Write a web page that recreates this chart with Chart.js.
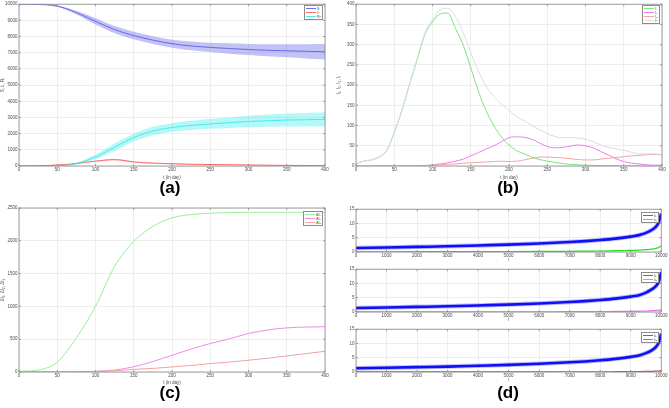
<!DOCTYPE html>
<html>
<head>
<meta charset="UTF-8">
<script src="https://cdn.jsdelivr.net/npm/chart.js"></script>
<style>
  body { margin: 0; background: #fff; width: 669px; height: 408px; position: relative; overflow: hidden; font-family: "Liberation Sans", Arial, sans-serif; }
  canvas { position: absolute; }
  .cap { position: absolute; font-weight: bold; font-size: 17px; transform: translate(-50%, -50%); color: #000; }
  .leg { position: absolute; border: 0.8px solid #8c8c8c; background: #fff; padding: 0.5px 1px; font-size: 3.6px; line-height: 4px; color: #333; }
  .leg div { display: flex; align-items: center; white-space: nowrap; }
  .leg span.sw { display: inline-block; width: 10px; height: 1px; margin-right: 1px; }
</style>
</head>
<body>
<canvas id="pa" width="335" height="180" style="left:0;top:0"></canvas>
<canvas id="pb" width="333" height="180" style="left:336px;top:0"></canvas>
<canvas id="pc" width="335" height="185" style="left:0;top:200px"></canvas>
<canvas id="pd1" width="333" height="57" style="left:336px;top:205px"></canvas>
<canvas id="pd2" width="333" height="57" style="left:336px;top:265px"></canvas>
<canvas id="pd3" width="333" height="57" style="left:336px;top:325px"></canvas>

<div class="cap" style="left:170px;top:188px">(a)</div>
<div class="cap" style="left:508px;top:188px">(b)</div>
<div class="cap" style="left:170px;top:393px">(c)</div>
<div class="cap" style="left:508px;top:393px">(d)</div>

<div class="leg" style="left:304px;top:5px">
  <div><span class="sw" style="background:#6a6ae8"></span>S</div>
  <div><span class="sw" style="background:#ff6a6a"></span>I<sub style="font-size:2.5px">T</sub></div>
  <div><span class="sw" style="background:#4ee8e8"></span>R<sub style="font-size:2.5px">T</sub></div>
</div>
<div class="leg" style="left:642px;top:5px">
  <div><span class="sw" style="background:#80e880"></span>I₁</div>
  <div><span class="sw" style="background:#f07af0"></span>I₂</div>
  <div><span class="sw" style="background:#f2a8a8"></span>I₃</div>
  <div><span class="sw" style="background:#dedede"></span>I<sub style="font-size:2.5px">T</sub></div>
</div>
<div class="leg" style="left:303px;top:211px">
  <div><span class="sw" style="background:#9af09a"></span>ΔI₁</div>
  <div><span class="sw" style="background:#f08cf0"></span>ΔI₂</div>
  <div><span class="sw" style="background:#f2a8a8"></span>ΔI₃</div>
</div>
<div class="leg" style="left:641px;top:212px">
  <div><span class="sw" style="background:#5a5aff"></span>λᵢ</div>
  <div><span class="sw" style="background:#55dd55"></span>λ₁</div>
</div>
<div class="leg" style="left:641px;top:272px">
  <div><span class="sw" style="background:#5a5aff"></span>λᵢ</div>
  <div><span class="sw" style="background:#f07af0"></span>λ₂</div>
</div>
<div class="leg" style="left:641px;top:332px">
  <div><span class="sw" style="background:#5a5aff"></span>λᵢ</div>
  <div><span class="sw" style="background:#e06060"></span>λ₃</div>
</div>

<script>
// ---- data ----
// (a) days, mean curves and shaded bands
const tA = [0, 25, 50, 75, 100, 125, 150, 175, 200, 225, 250, 275, 300, 325, 350, 375, 400];
const sMean = [10000, 9985, 9880, 9480, 8940, 8430, 8060, 7780, 7560, 7420, 7330, 7260, 7200, 7150, 7120, 7090, 7060];
const sHigh = [10000, 9990, 9920, 9590, 9130, 8650, 8290, 8020, 7810, 7690, 7620, 7580, 7540, 7520, 7520, 7530, 7540];
const sLow  = [10000, 9980, 9840, 9370, 8750, 8210, 7830, 7540, 7310, 7150, 7040, 6940, 6860, 6780, 6720, 6650, 6580];
const rMean = [0, 5, 20, 150, 560, 1170, 1760, 2160, 2380, 2510, 2600, 2680, 2750, 2800, 2840, 2860, 2880];
const rHigh = [0, 5, 30, 210, 710, 1390, 2000, 2420, 2640, 2790, 2900, 3010, 3100, 3180, 3240, 3280, 3320];
const rLow  = [0, 5, 10, 90, 410, 950, 1520, 1900, 2120, 2230, 2300, 2350, 2400, 2420, 2440, 2440, 2440];
const iMean = [0, 10, 60, 150, 300, 395, 250, 175, 140, 110, 90, 75, 65, 50, 40, 30, 25];
const iHigh = [0, 12, 70, 175, 340, 445, 290, 205, 165, 130, 108, 92, 80, 63, 52, 40, 35];
const iLow  = [0, 8, 50, 125, 260, 345, 210, 145, 115, 90, 72, 58, 50, 37, 28, 20, 15];

// (b) infected per group, every 10 days
const tB = [0, 10, 20, 30, 40, 50, 60, 70, 80, 90, 100, 110, 120, 130, 140, 150, 160, 170, 180, 190, 200,
            210, 220, 230, 240, 250, 260, 270, 280, 290, 300, 310, 320, 330, 340, 350, 360, 370, 380, 390, 400];
const i1 = [5, 12, 15, 22, 38, 83, 137, 202, 263, 325, 356, 376, 378, 340, 300, 243, 185, 137, 100, 72, 52,
            38, 30, 22, 16, 12, 9, 6, 4, 3, 2, 1.5, 1, 1, 0.5, 0.5, 0.5, 0, 0, 0, 0];
const i2 = [0, 0, 0, 0, 0, 0, 0, 0, 0.5, 1, 3, 5, 8, 12, 17, 25, 33, 42, 50, 60, 70,
            72, 71, 66, 57, 48, 45, 46, 49, 52, 50, 45, 36, 27, 18, 11, 7, 5, 3, 2, 2];
const i3 = [0, 0, 0, 0, 0, 0, 0, 0, 0.5, 1, 2, 3, 4, 5, 7, 8, 9, 10, 11, 12, 11,
            12, 15, 19, 22, 22, 21, 20, 18, 16, 15, 15, 17, 19, 21, 23, 25, 26, 28, 29, 27];
const iT = [5, 12, 15, 22, 38, 83, 138, 203, 265, 328, 362, 386, 390, 370, 330, 280, 235, 198, 172, 153, 138,
            122, 112, 100, 90, 80, 73, 70, 70, 69, 66, 60, 52, 46, 42, 39, 34, 30, 30, 30, 28];

// (c) cumulative per group
const tC = [0, 25, 50, 75, 100, 125, 150, 175, 200, 225, 250, 275, 300, 325, 350, 375, 400];
const c1 = [10, 30, 150, 520, 1000, 1610, 1990, 2220, 2350, 2400, 2420, 2430, 2435, 2435, 2435, 2435, 2435];
const c2 = [0, 0, 0, 2, 10, 30, 80, 160, 255, 350, 434, 505, 587, 640, 673, 685, 690];
const c3 = [0, 0, 0, 2, 8, 20, 40, 55, 77, 100, 128, 152, 179, 210, 245, 280, 316];

// (d) sorted index plots
const xD = [0, 1000, 2000, 3000, 4000, 5000, 6000, 7000, 7500, 8000, 8500, 9000, 9300, 9500, 9700, 9800, 9900, 9950, 10000];
const d1Blue = [1.4, 1.6, 1.8, 2.0, 2.3, 2.6, 3.0, 3.5, 3.8, 4.2, 4.7, 5.4, 6.0, 6.7, 7.8, 8.6, 10.0, 11.5, 13.5];
const d1Green = [0.05, 0.05, 0.1, 0.1, 0.1, 0.15, 0.2, 0.25, 0.3, 0.35, 0.45, 0.55, 0.65, 0.8, 1.0, 1.2, 1.5, 1.8, 2.2];
const d2Blue = [1.4, 1.6, 1.8, 2.0, 2.3, 2.6, 3.0, 3.5, 3.8, 4.2, 4.7, 5.4, 6.0, 6.8, 8.0, 8.8, 10.2, 11.8, 14.0];
const d2Mag = [0.02, 0.02, 0.03, 0.04, 0.05, 0.06, 0.08, 0.1, 0.12, 0.15, 0.2, 0.25, 0.3, 0.35, 0.45, 0.5, 0.6, 0.65, 0.8];
const d3Blue = [1.3, 1.5, 1.7, 1.9, 2.2, 2.5, 2.9, 3.4, 3.7, 4.1, 4.6, 5.3, 5.9, 6.6, 7.7, 8.5, 9.9, 11.3, 13.5];
const d3Red = [0.01, 0.01, 0.02, 0.02, 0.03, 0.04, 0.05, 0.06, 0.07, 0.08, 0.1, 0.13, 0.16, 0.2, 0.25, 0.3, 0.35, 0.4, 0.5];

// ---- helpers ----
const tickFont = { family: "Liberation Sans", size: 4.5 };

function pts(xs, ys) {
  return xs.map((x, i) => ({ x: x, y: ys[i] }));
}

function line(xs, ys, color, width, fill, bg) {
  return {
    data: pts(xs, ys),
    borderColor: color,
    borderWidth: width,
    pointRadius: 0,
    cubicInterpolationMode: 'monotone',
    fill: fill || false,
    backgroundColor: bg || 'transparent'
  };
}

// MATLAB style box with inward ticks
const frame = {
  id: 'frame',
  afterDraw(chart) {
    const a = chart.chartArea, c = chart.ctx;
    c.save();
    c.strokeStyle = '#8a8a8a';
    c.lineWidth = 0.8;
    c.strokeRect(a.left, a.top, a.right - a.left, a.bottom - a.top);
    c.beginPath();
    const sx = chart.scales.x, sy = chart.scales.y;
    sx.ticks.forEach(t => {
      const p = sx.getPixelForValue(t.value);
      c.moveTo(p, a.bottom); c.lineTo(p, a.bottom - 2);
      c.moveTo(p, a.top); c.lineTo(p, a.top + 2);
    });
    sy.ticks.forEach(t => {
      const p = sy.getPixelForValue(t.value);
      c.moveTo(a.left, p); c.lineTo(a.left + 2, p);
      c.moveTo(a.right, p); c.lineTo(a.right - 2, p);
    });
    c.stroke();
    c.restore();
  }
};

function makeChart(id, datasets, o) {
  new Chart(document.getElementById(id), {
    type: 'line',
    data: { datasets: datasets },
    options: {
      responsive: false,
      animation: false,
      events: [],
      layout: { padding: { top: o.top, right: o.right, left: 0, bottom: 0 } },
      plugins: { legend: { display: false }, tooltip: { enabled: false } },
      scales: {
        x: {
          type: 'linear', min: o.xmin, max: o.xmax,
          ticks: { stepSize: o.xstep, font: tickFont, color: '#4a4a4a', padding: 1.5, maxRotation: 0, autoSkip: false,
                   callback: v => String(v) },
          grid: { color: '#e6e6e6', lineWidth: 0.7, drawTicks: false },
          border: { display: false },
          title: { display: !!o.xtitle, text: o.xtitle, font: tickFont, color: '#4a4a4a', padding: { top: 0.5, bottom: 0 } },
          afterFit(s) { s.height = o.xh; }
        },
        y: {
          min: o.ymin, max: o.ymax,
          ticks: { stepSize: o.ystep, font: tickFont, color: '#4a4a4a', padding: 1.5, autoSkip: false,
                   callback: v => String(v) },
          grid: { color: '#e6e6e6', lineWidth: 0.7, drawTicks: false },
          border: { display: false },
          title: { display: !!o.ytitle, text: o.ytitle, font: tickFont, color: '#4a4a4a', padding: { top: 0, bottom: 1 } },
          afterFit(s) { s.width = o.yw; }
        }
      }
    },
    plugins: [frame]
  });
}

// (a)
makeChart('pa', [
  line(tA, sLow, 'transparent', 0),
  line(tA, sHigh, 'transparent', 0, '-1', 'rgba(120,120,235,0.45)'),
  line(tA, rLow, 'transparent', 0),
  line(tA, rHigh, 'transparent', 0, '-1', 'rgba(90,240,240,0.45)'),
  line(tA, iLow, 'transparent', 0),
  line(tA, iHigh, 'transparent', 0, '-1', 'rgba(255,130,130,0.35)'),
  line(tA, sMean, '#5a5ae0', 1),
  line(tA, iMean, '#ff6060', 1),
  line(tA, rMean, '#40e4e4', 1)
], { xmin: 0, xmax: 400, xstep: 50, ymin: 0, ymax: 10000, ystep: 1000, yw: 19, xh: 14, top: 3, right: 10,
     xtitle: 't (in day)', ytitle: 'S, Iₜ, Rₜ' });

// (b)
makeChart('pb', [
  line(tB, iT, '#dcdcdc', 1),
  line(tB, i3, '#f2a4a4', 1),
  line(tB, i2, '#f27af2', 1),
  line(tB, i1, '#78e478', 1)
], { xmin: 0, xmax: 400, xstep: 50, ymin: 0, ymax: 400, ystep: 50, yw: 20, xh: 14, top: 3, right: 7,
     xtitle: 't (in day)', ytitle: 'I₁, I₂, I₃, Iₜ' });

// (c)
makeChart('pc', [
  line(tC, c3, '#f0a0a0', 1),
  line(tC, c2, '#f08af0', 1),
  line(tC, c1, '#96ee96', 1)
], { xmin: 0, xmax: 400, xstep: 50, ymin: 0, ymax: 2500, ystep: 500, yw: 19, xh: 13, top: 8, right: 10,
     xtitle: 't (in day)', ytitle: 'ΔI₁, ΔI₂, ΔI₃' });

// (d)
const dOpts = { xmin: 0, xmax: 10000, xstep: 1000, ymin: 0, ymax: 15, ystep: 5, yw: 20, xh: 10, top: 4, right: 6, xtitle: 'i' };
makeChart('pd1', [
  line(xD, d1Blue, 'rgba(30,30,255,0.3)', 4.5),
  line(xD, d1Blue, '#0a0af0', 2.6),
  line(xD, d1Green, '#22dd22', 1.2)
], dOpts);
makeChart('pd2', [
  line(xD, d2Blue, 'rgba(30,30,255,0.3)', 4.5),
  line(xD, d2Blue, '#0a0af0', 2.6),
  line(xD, d2Mag, '#f070f0', 1.2)
], dOpts);
makeChart('pd3', [
  line(xD, d3Blue, 'rgba(30,30,255,0.3)', 4.5),
  line(xD, d3Blue, '#0a0af0', 2.6),
  line(xD, d3Red, '#dd4444', 1.2)
], dOpts);
</script>
</body>
</html>
